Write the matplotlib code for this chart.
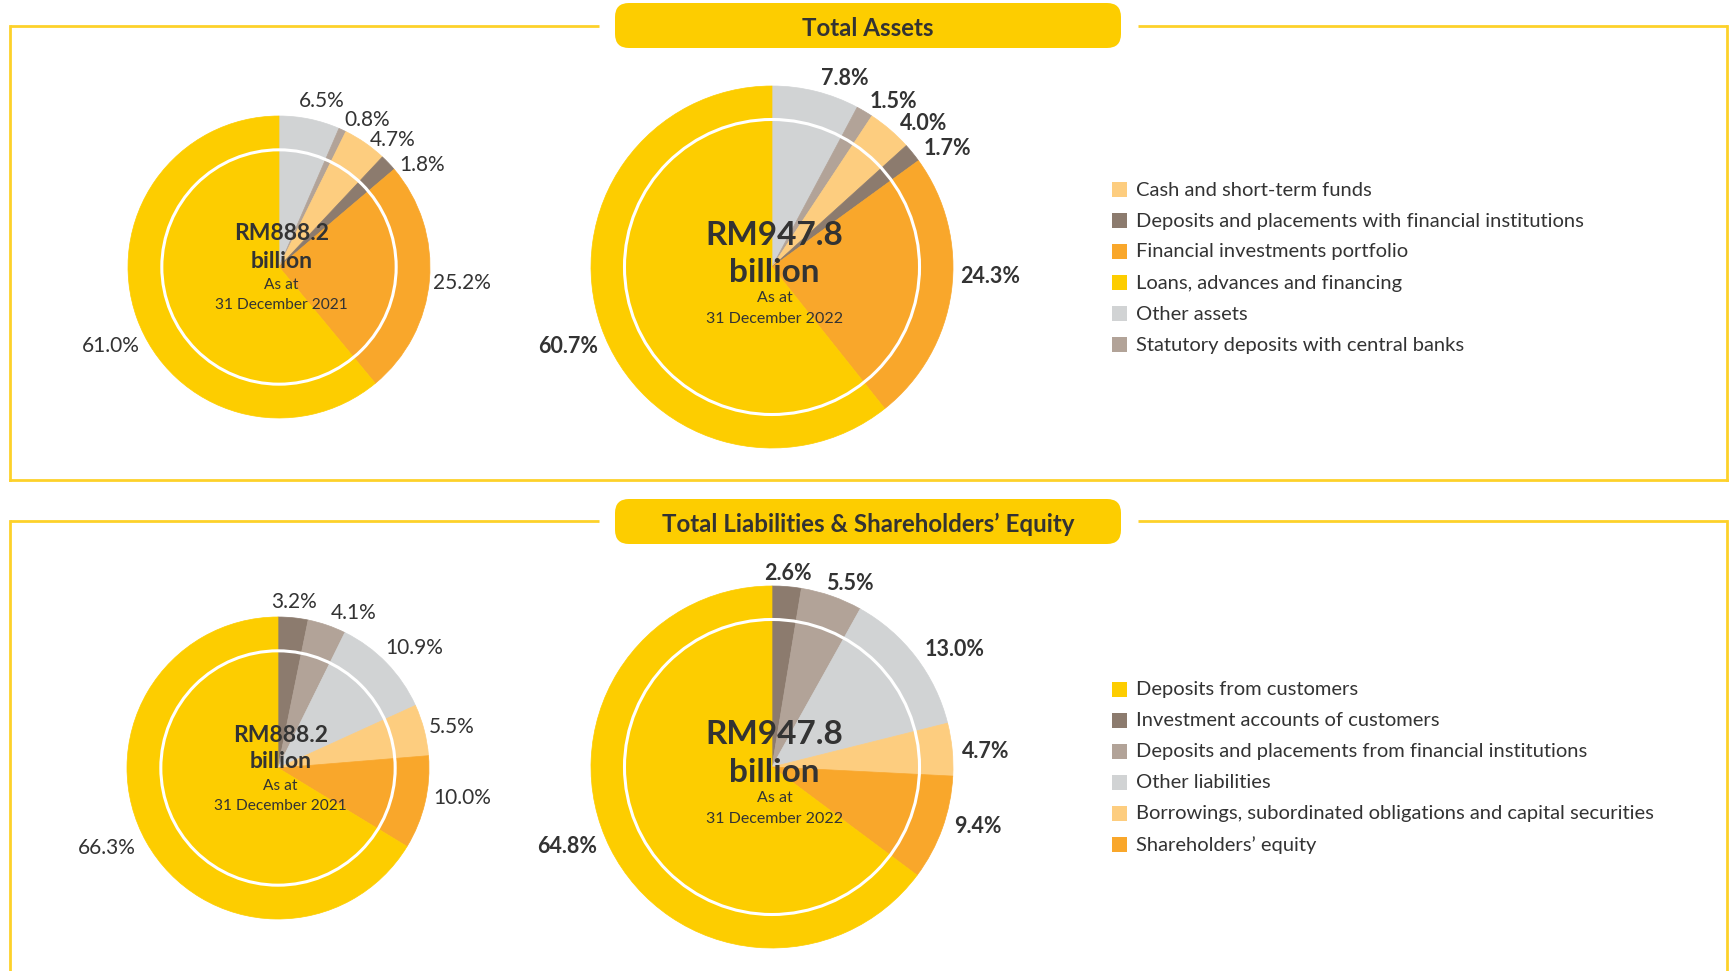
import math
import matplotlib
matplotlib.use("Agg")
import matplotlib.pyplot as plt
from matplotlib.patches import FancyBboxPatch, Circle, Rectangle

plt.rcParams['font.family'] = ['Lato', 'DejaVu Sans']

# ---------------- data ----------------
asset_categories = ["Other assets", "Statutory deposits with central banks",
                    "Cash and short-term funds", "Deposits and placements with financial institutions",
                    "Financial investments portfolio", "Loans, advances and financing"]
assets_2021 = [6.5, 0.8, 4.7, 1.8, 25.2, 61.0]
assets_2022 = [7.8, 1.5, 4.0, 1.7, 24.3, 60.7]
asset_legend = ["Cash and short-term funds", "Deposits and placements with financial institutions",
                "Financial investments portfolio", "Loans, advances and financing",
                "Other assets", "Statutory deposits with central banks"]

liab_categories = ["Investment accounts of customers", "Deposits and placements from financial institutions",
                   "Other liabilities", "Borrowings, subordinated obligations and capital securities",
                   "Shareholders\u2019 equity", "Deposits from customers"]
liab_2021 = [3.2, 4.1, 10.9, 5.5, 10.0, 66.3]
liab_2022 = [2.6, 5.5, 13.0, 4.7, 9.4, 64.8]
liab_legend = ["Deposits from customers", "Investment accounts of customers",
               "Deposits and placements from financial institutions", "Other liabilities",
               "Borrowings, subordinated obligations and capital securities", "Shareholders\u2019 equity"]

totals = ["RM888.2", "RM947.8"]
dates = ["31 December 2021", "31 December 2022"]
section_titles = ["Total Assets", "Total Liabilities & Shareholders\u2019 Equity"]

# ---------------- style / layout ----------------
YELLOW = "#FDCD00"
colors = {
    "Other assets": "#D1D3D4", "Other liabilities": "#D1D3D4",
    "Statutory deposits with central banks": "#B2A398",
    "Deposits and placements from financial institutions": "#B2A398",
    "Cash and short-term funds": "#FDCD7F",
    "Borrowings, subordinated obligations and capital securities": "#FDCD7F",
    "Deposits and placements with financial institutions": "#8C7B6E",
    "Investment accounts of customers": "#8C7B6E",
    "Financial investments portfolio": "#F9A72B",
    "Shareholders\u2019 equity": "#F9A72B",
    "Loans, advances and financing": YELLOW,
    "Deposits from customers": YELLOW,
}
TXT = "#333333"
FRAME = "#FDD12A"

# small pixel nudges for the percentage labels (layout only)
nudge_a21 = [(-13, -6), (-3, 1), (-2, 7), (2, 10), (-8, 2), (14, 24)]
nudge_a22 = [(2, 1), (-2, 2), (1, 5), (0, 5), (-6, -17), (11, 15)]
nudge_l21 = [(0, -4), (0, -1), (-10, -7), (-7, 0), (-3, -8), (0, 0)]
nudge_l22 = [(0, 1), (-10, 1), (-3, 1), (-5, 4), (-2, -7), (0, -8)]

W, H = 1730, 971
fig = plt.figure(figsize=(W / 100, H / 100), dpi=100)
fig.patch.set_facecolor("white")

bg = fig.add_axes([0, 0, 1, 1])
bg.set_xlim(0, W)
bg.set_ylim(H, 0)
bg.axis("off")


def px_axes(x0, y0, w, h):
    return fig.add_axes([x0 / W, 1 - (y0 + h) / H, w / W, h / H])


def section(frame_top, frame_bottom, box_top, title):
    lw = 2
    box_l, box_r = 615, 1121
    bg.plot([10, 599], [frame_top, frame_top], color=FRAME, lw=lw, solid_capstyle="butt")
    bg.plot([1138, 1727], [frame_top, frame_top], color=FRAME, lw=lw, solid_capstyle="butt")
    bg.plot([10, 10], [frame_top, frame_bottom], color=FRAME, lw=lw)
    bg.plot([1727, 1727], [frame_top, frame_bottom], color=FRAME, lw=lw)
    if frame_bottom < H:
        bg.plot([10, 1727], [frame_bottom, frame_bottom], color=FRAME, lw=lw)
    box = FancyBboxPatch((box_l, box_top), box_r - box_l, 45,
                         boxstyle="round,pad=0,rounding_size=14",
                         fc=YELLOW, ec="none")
    bg.add_patch(box)
    bg.text((box_l + box_r) / 2, box_top + 25, title, ha="center", va="center",
            fontsize=17.4, fontweight="bold", color=TXT)


section(26, 480, 3, section_titles[0])
section(521, H + 10, 499, section_titles[1])


def donut(cx, cy, r, values, cats, inner, bold, total, date, big, nudges):
    k = 1.6
    ax = px_axes(cx - k * r, cy - k * r, 2 * k * r, 2 * k * r)
    wedges, _ = ax.pie(values, colors=[colors[c] for c in cats], startangle=90,
                       counterclock=False, radius=1)
    for w in wedges:
        w.set_edgecolor(w.get_facecolor())
        w.set_linewidth(0.5)
    ax.set_xlim(-k, k)
    ax.set_ylim(-k, k)
    ax.set_aspect("equal")
    ax.axis("off")
    ax.add_patch(Circle((0, 0), inner, fill=False, ec="white", lw=2.2))
    for w, v, (dx, dy) in zip(wedges, values, nudges):
        mid = math.radians((w.theta1 + w.theta2) / 2)
        x, y = math.cos(mid), math.sin(mid)
        ha = "left" if x > 0.15 else ("right" if x < -0.15 else "center")
        ax.text(1.08 * x + dx / r, 1.08 * y - dy / r, f"{v:.1f}%", ha=ha, va="center",
                fontsize=15.5 if bold else 15,
                fontweight="bold" if bold else "normal", color=TXT)
    if big:
        offs, sizes = [-32, 5, 31, 52], [24, 24, 11.5, 11.5]
    else:
        offs, sizes = [-33, -6, 18, 38], [16.5, 16.5, 11.2, 11.2]
    lines = [total, "billion", "As at", date]
    for i, (off, s, t) in enumerate(zip(offs, sizes, lines)):
        ax.text(0.015, -off / r, t, ha="center", va="center", fontsize=s,
                fontweight="bold" if i < 2 else "normal", color=TXT)


donut(279, 267, 151, assets_2021, asset_categories, 0.776, False, totals[0], dates[0], False, nudge_a21)
donut(772, 267, 181, assets_2022, asset_categories, 0.815, True, totals[1], dates[1], True, nudge_a22)
donut(278, 768, 151, liab_2021, liab_categories, 0.776, False, totals[0], dates[0], False, nudge_l21)
donut(772, 767, 181, liab_2022, liab_categories, 0.815, True, totals[1], dates[1], True, nudge_l22)


def legend(items, y0):
    for i, name in enumerate(items):
        y = y0 + i * 31
        bg.add_patch(Rectangle((1112, y - 7.5), 15, 15, fc=colors[name], ec="none"))
        bg.text(1136, y, name, ha="left", va="center", fontsize=14.5, color=TXT)


legend(asset_legend, 190)
legend(liab_legend, 690)

fig.savefig("out.png", dpi=100, facecolor="white")
